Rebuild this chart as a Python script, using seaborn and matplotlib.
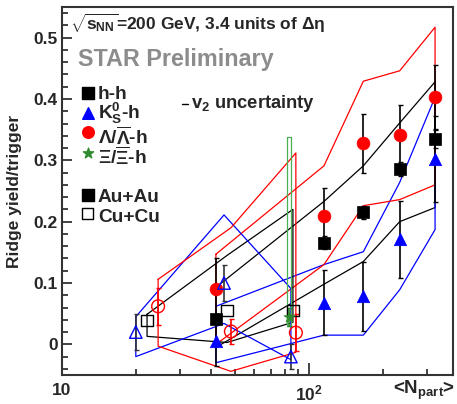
import numpy as np
import pandas as pd
import matplotlib
matplotlib.use("Agg")
import matplotlib.pyplot as plt
import seaborn as sns
from matplotlib.ticker import FixedLocator, FixedFormatter, NullFormatter

# ---- data ----
# Au+Au
npart_au = [42, 115, 166, 233, 324]
hh_au = [0.042, 0.166, 0.215, 0.286, 0.335]
hh_au_err = [0.008, 0.010, 0.010, 0.012, 0.015]
hh_au_hi = [0.093, 0.233, 0.291, 0.361, 0.428]
hh_au_lo = [-0.005, 0.098, 0.135, 0.200, 0.223]

k0s_au = [0.005, 0.068, 0.078, 0.171, 0.302]
k0s_au_err = [0.040, 0.053, 0.057, 0.063, 0.070]
k0s_au_hi = [0.062, 0.130, 0.151, 0.264, 0.403]
k0s_au_lo = [-0.030, 0.015, 0.015, 0.089, 0.187]

lam_au = [0.090, 0.210, 0.328, 0.341, 0.403]
lam_au_err = [0.050, 0.045, 0.048, 0.050, 0.052]
lam_au_hi = [0.147, 0.291, 0.429, 0.446, 0.517]
lam_au_lo = [0.000, 0.130, 0.226, 0.236, 0.260]

# Cu+Cu
npart_cu_hh = [22.1, 46.6, 86.1]
hh_cu = [0.039, 0.055, 0.055]
hh_cu_hi = [0.049, 0.145, 0.220]
hh_cu_lo = [0.013, 0.003, 0.036]

npart_cu_k0s = [19.9, 45.3, 84.5]
k0s_cu = [0.020, 0.100, -0.020]
k0s_cu_err = [0.030, 0.030, 0.020]
k0s_cu_hi = [0.045, 0.211, 0.091]
k0s_cu_lo = [-0.020, 0.034, -0.025]

npart_cu_lam = [24.5, 48.3, 88.5]
lam_cu = [0.062, 0.021, 0.019]
lam_cu_err = [0.030, 0.021, 0.030]
lam_cu_hi = [0.106, 0.190, 0.312]
lam_cu_lo = [-0.003, -0.044, -0.013]

npart_cu_xi = [83.0]
xi_cu = [0.045]
xi_cu_err = [0.015]
xi_cu_hi = [0.338]
xi_cu_lo = [0.030]

GREEN = '#2e8b2e'

sns.set_style("ticks")
plt.rcParams['font.family'] = ['Liberation Sans', 'DejaVu Sans']
plt.rcParams['font.weight'] = 'bold'
plt.rcParams['mathtext.fontset'] = 'custom'
plt.rcParams['mathtext.rm'] = 'Liberation Sans:bold'
plt.rcParams['mathtext.bf'] = 'Liberation Sans:bold'
plt.rcParams['mathtext.it'] = 'Liberation Sans:bold'

fig = plt.figure(figsize=(4.57, 4.04), dpi=100)
ax = fig.add_axes([62/457, 1-375/404, 391/457, 368/404])


def band(x, hi, lo, color, lw=0.9):
    # closed outline: upper left->right, then lower right->left
    xs = list(x) + list(x)[::-1] + [x[0]]
    ys = list(hi) + list(lo)[::-1] + [hi[0]]
    ax.plot(xs, ys, color=color, lw=lw, zorder=2)


band(npart_au, hh_au_hi, hh_au_lo, 'black')
band(npart_au, k0s_au_hi, k0s_au_lo, 'blue')
band(npart_au, lam_au_hi, lam_au_lo, 'red')
band(npart_cu_hh, hh_cu_hi, hh_cu_lo, 'black')
band(npart_cu_k0s, k0s_cu_hi, k0s_cu_lo, 'blue')
band(npart_cu_lam, lam_cu_hi, lam_cu_lo, 'red')
xi_x = [npart_cu_xi[0]*0.978, npart_cu_xi[0]*1.022]
band(xi_x, xi_cu_hi*2, xi_cu_lo*2, '#4caf50')

# error bars
for x, y, e, c in [(npart_au, hh_au, hh_au_err, 'black'),
                   (npart_au, k0s_au, k0s_au_err, 'black'),
                   (npart_au, lam_au, lam_au_err, 'black'),
                   (npart_cu_k0s, k0s_cu, k0s_cu_err, '#333333'),
                   (npart_cu_lam, lam_cu, lam_cu_err, 'red'),
                   (npart_cu_xi, xi_cu, xi_cu_err, GREEN)]:
    ax.errorbar(x, y, yerr=e, fmt='none', ecolor=c, elinewidth=1.2,
                capsize=1.8, capthick=1, zorder=3)

# markers
pts = [
    (npart_au, hh_au, 's', 'black', True, 72),
    (npart_au, k0s_au, '^', 'blue', True, 80),
    (npart_au, lam_au, 'o', 'red', True, 85),
    (npart_cu_hh, hh_cu, 's', 'black', False, 72),
    (npart_cu_k0s, k0s_cu, '^', 'blue', False, 80),
    (npart_cu_lam, lam_cu, 'o', 'red', False, 85),
    (npart_cu_xi, xi_cu, '*', GREEN, True, 70),
]
for x, y, m, c, filled, s in pts:
    df = pd.DataFrame({'npart': x, 'ridge': y})
    if filled:
        sns.scatterplot(data=df, x='npart', y='ridge', marker=m, color=c,
                        s=s, edgecolor=c, linewidth=0.5, ax=ax, zorder=4)
    else:
        sns.scatterplot(data=df, x='npart', y='ridge', marker=m,
                        facecolors='none', edgecolor=c, s=s, linewidth=1.0,
                        ax=ax, zorder=4)

ax.set_xscale('log')
ax.set_xlim(10, 383)
ax.set_ylim(-0.05, 0.55)

ax.xaxis.set_major_locator(FixedLocator([10, 100]))
ax.xaxis.set_major_formatter(FixedFormatter(['10', r'$10^2$']))
ax.xaxis.set_minor_locator(FixedLocator([20, 30, 40, 50, 60, 70, 80, 90, 200, 300]))
ax.xaxis.set_minor_formatter(NullFormatter())
ax.yaxis.set_major_locator(FixedLocator([0, 0.1, 0.2, 0.3, 0.4, 0.5]))
ax.yaxis.set_major_formatter(FixedFormatter(['0', '0.1', '0.2', '0.3', '0.4', '0.5']))
ax.yaxis.set_minor_locator(FixedLocator(np.arange(-0.04, 0.55, 0.02)))

ax.tick_params(which='both', direction='in', top=False, right=False,
               labelsize=12.5, width=1.2, color='#222222')
ax.tick_params(axis='y', which='major', length=7.5, pad=3)
ax.tick_params(axis='y', which='minor', length=4)
ax.tick_params(axis='x', which='major', length=9, pad=6)
ax.tick_params(axis='x', which='minor', length=4.5)
for sp in ax.spines.values():
    sp.set_linewidth(1.5)
    sp.set_color('#333333')

ax.set_xlabel('')
ax.set_ylabel('Ridge yield/trigger', fontsize=12.5, fontweight='bold')
ax.yaxis.set_label_coords(-0.102, 0.5)
fig.text(455/457, 1-394/404, r'<N$_{\mathrm{part}}$>', ha='right', va='baseline',
         fontsize=13.5, fontweight='bold')

# header texts
T = ax.transAxes
ax.text(0.02, 0.9375, r'$\sqrt{s_{NN}}$=200 GeV, 3.4 units of $\Delta\eta$',
        transform=T, fontsize=12.5, fontweight='bold', va='baseline')
ax.text(0.041, 0.840, 'STAR Preliminary', transform=T,
        fontsize=16.8, fontweight='bold', color='#8c8c8c', va='baseline')

# legend drawn by hand
mx = 0.066
tx = 0.092
fs = 13.8
ax.scatter([mx], [0.766], marker='s', s=64, color='black', transform=T, clip_on=False)
ax.text(tx, 0.750, 'h-h', transform=T, fontsize=fs, fontweight='bold', va='baseline')
ax.scatter([mx], [0.712], marker='^', s=70, color='blue', transform=T, clip_on=False)
ax.text(tx, 0.696, r'K$^{0}_{S}$-h', transform=T, fontsize=fs, fontweight='bold', va='baseline')
ax.scatter([mx], [0.660], marker='o', s=70, color='red', transform=T, clip_on=False)
ax.text(tx, 0.625, r'$\Lambda/\overline{\Lambda}$-h', transform=T, fontsize=fs,
        fontweight='bold', va='baseline')
ax.scatter([mx], [0.603], marker='*', s=60, color=GREEN, transform=T, clip_on=False)
ax.text(tx, 0.571, r'$\Xi/\overline{\Xi}$-h', transform=T, fontsize=fs,
        fontweight='bold', va='baseline')
ax.scatter([mx], [0.489], marker='s', s=64, color='black', transform=T, clip_on=False)
ax.text(tx, 0.470, 'Au+Au', transform=T, fontsize=fs, fontweight='bold', va='baseline')
ax.scatter([mx], [0.440], marker='s', s=64, facecolors='none', edgecolors='black',
           linewidths=1.0, transform=T, clip_on=False)
ax.text(tx, 0.416, 'Cu+Cu', transform=T, fontsize=fs, fontweight='bold', va='baseline')

ax.plot([0.307, 0.322], [0.737, 0.737], color='black', lw=1, transform=T)
ax.text(0.330, 0.7255, r'v$_{2}$ uncertainty', transform=T, fontsize=13.2,
        fontweight='bold', va='baseline')

fig.savefig('out.png', dpi=100)
